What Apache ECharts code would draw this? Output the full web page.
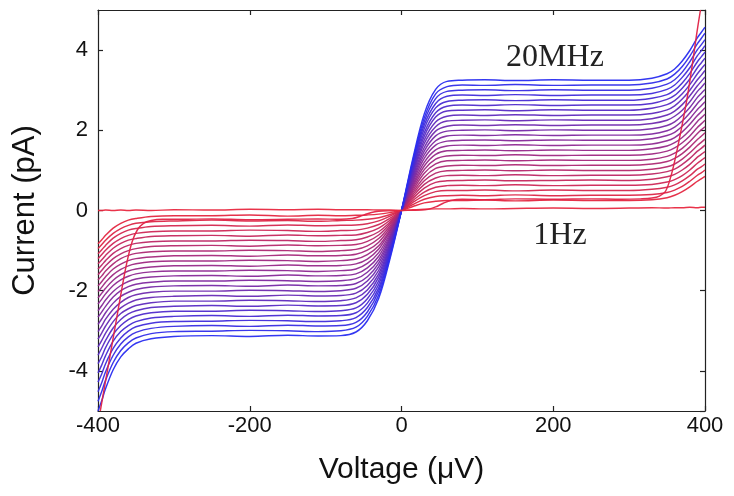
<!DOCTYPE html>
<html>
<head>
<meta charset="utf-8">
<script src="https://cdn.jsdelivr.net/npm/echarts@6/dist/echarts.min.js"></script>
<style>
  html, body { margin: 0; padding: 0; background: #ffffff; }
  #chart { width: 734px; height: 496px; }
</style>
</head>
<body>
<div id="chart"></div>
<script>
// Bias voltage grid (µV) shared by the pumping curves
const voltage = [-400, -395, -390, -380, -370, -360, -350, -330, -300, -250, -200, -150, -110, -80, -60, -45, -30, -15, 0,
                 15, 30, 45, 60, 80, 110, 150, 200, 250, 300, 330, 350, 360, 370, 380, 390, 395, 400];

// Measured current (pA) for each pumping frequency, lowest to highest
const i00 = [-0.83, -0.73, -0.62, -0.44, -0.32, -0.24, -0.20, -0.15, -0.13, -0.13, -0.11, -0.14, -0.12, -0.13, -0.12, -0.11, -0.09, -0.05, 0, 0.10, 0.19, 0.23, 0.25, 0.25, 0.26, 0.24, 0.26, 0.25, 0.25, 0.27, 0.32, 0.38, 0.47, 0.59, 0.73, 0.79, 0.85];
const i01 = [-0.95, -0.85, -0.74, -0.57, -0.45, -0.37, -0.32, -0.28, -0.26, -0.24, -0.26, -0.25, -0.27, -0.25, -0.24, -0.22, -0.18, -0.10, 0, 0.15, 0.28, 0.35, 0.37, 0.38, 0.37, 0.39, 0.37, 0.38, 0.38, 0.40, 0.45, 0.51, 0.60, 0.73, 0.88, 0.94, 1.01];
const i02 = [-1.08, -0.98, -0.87, -0.69, -0.57, -0.49, -0.45, -0.40, -0.38, -0.37, -0.39, -0.36, -0.38, -0.37, -0.36, -0.33, -0.26, -0.14, 0, 0.20, 0.37, 0.47, 0.50, 0.50, 0.51, 0.49, 0.51, 0.50, 0.50, 0.53, 0.58, 0.64, 0.74, 0.87, 1.03, 1.09, 1.16];
const i03 = [-1.20, -1.10, -0.99, -0.82, -0.70, -0.62, -0.57, -0.53, -0.51, -0.51, -0.49, -0.50, -0.52, -0.50, -0.49, -0.44, -0.35, -0.19, 0, 0.25, 0.46, 0.58, 0.62, 0.63, 0.62, 0.64, 0.62, 0.63, 0.63, 0.65, 0.71, 0.77, 0.87, 1.01, 1.18, 1.25, 1.32];
const i04 = [-1.33, -1.23, -1.12, -0.94, -0.82, -0.74, -0.70, -0.65, -0.63, -0.62, -0.64, -0.61, -0.63, -0.62, -0.61, -0.55, -0.44, -0.24, 0, 0.30, 0.56, 0.70, 0.74, 0.75, 0.76, 0.74, 0.75, 0.76, 0.75, 0.78, 0.84, 0.90, 1.01, 1.15, 1.33, 1.40, 1.47];
const i05 = [-1.46, -1.36, -1.25, -1.07, -0.95, -0.87, -0.82, -0.78, -0.76, -0.76, -0.74, -0.75, -0.77, -0.75, -0.73, -0.66, -0.53, -0.29, 0, 0.35, 0.65, 0.81, 0.87, 0.88, 0.87, 0.89, 0.87, 0.88, 0.88, 0.91, 0.97, 1.03, 1.15, 1.30, 1.48, 1.55, 1.63];
const i06 = [-1.60, -1.49, -1.38, -1.20, -1.08, -1.00, -0.95, -0.90, -0.88, -0.87, -0.89, -0.86, -0.88, -0.87, -0.85, -0.77, -0.61, -0.33, 0, 0.40, 0.74, 0.93, 0.99, 1.00, 1.01, 0.99, 1.01, 1.00, 1.00, 1.03, 1.09, 1.16, 1.28, 1.44, 1.62, 1.70, 1.78];
const i07 = [-1.73, -1.63, -1.51, -1.33, -1.20, -1.12, -1.07, -1.03, -1.01, -1.01, -0.99, -1.00, -1.02, -1.00, -0.97, -0.88, -0.70, -0.38, 0, 0.45, 0.83, 1.05, 1.11, 1.13, 1.12, 1.14, 1.12, 1.13, 1.13, 1.16, 1.22, 1.30, 1.42, 1.58, 1.77, 1.85, 1.94];
const i08 = [-1.88, -1.77, -1.65, -1.46, -1.34, -1.25, -1.20, -1.16, -1.13, -1.12, -1.14, -1.11, -1.13, -1.12, -1.09, -0.99, -0.79, -0.43, 0, 0.50, 0.93, 1.16, 1.24, 1.25, 1.26, 1.24, 1.26, 1.25, 1.25, 1.28, 1.35, 1.43, 1.55, 1.72, 1.92, 2.01, 2.09];
const i09 = [-2.02, -1.91, -1.79, -1.60, -1.47, -1.38, -1.33, -1.28, -1.26, -1.26, -1.24, -1.25, -1.27, -1.25, -1.21, -1.10, -0.88, -0.48, 0, 0.55, 1.02, 1.28, 1.36, 1.38, 1.37, 1.39, 1.37, 1.38, 1.38, 1.41, 1.48, 1.56, 1.69, 1.86, 2.07, 2.16, 2.25];
const i10 = [-2.18, -2.06, -1.94, -1.74, -1.60, -1.51, -1.46, -1.41, -1.38, -1.37, -1.39, -1.36, -1.38, -1.37, -1.33, -1.21, -0.96, -0.52, 0, 0.60, 1.11, 1.40, 1.49, 1.50, 1.51, 1.49, 1.51, 1.50, 1.50, 1.54, 1.61, 1.69, 1.82, 2.00, 2.22, 2.31, 2.40];
const i11 = [-2.33, -2.21, -2.08, -1.87, -1.73, -1.64, -1.58, -1.53, -1.51, -1.51, -1.49, -1.50, -1.52, -1.50, -1.46, -1.32, -1.05, -0.57, 0, 0.65, 1.20, 1.51, 1.61, 1.63, 1.62, 1.64, 1.62, 1.63, 1.63, 1.66, 1.74, 1.82, 1.96, 2.15, 2.37, 2.46, 2.56];
const i12 = [-2.50, -2.37, -2.23, -2.02, -1.87, -1.77, -1.71, -1.66, -1.63, -1.62, -1.64, -1.61, -1.63, -1.62, -1.58, -1.43, -1.14, -0.62, 0, 0.70, 1.30, 1.63, 1.73, 1.75, 1.76, 1.74, 1.76, 1.75, 1.75, 1.79, 1.87, 1.95, 2.10, 2.29, 2.52, 2.61, 2.71];
const i13 = [-2.66, -2.53, -2.39, -2.16, -2.00, -1.90, -1.84, -1.79, -1.76, -1.76, -1.74, -1.75, -1.77, -1.75, -1.70, -1.54, -1.23, -0.67, 0, 0.75, 1.39, 1.74, 1.86, 1.88, 1.87, 1.89, 1.87, 1.88, 1.88, 1.91, 1.99, 2.08, 2.23, 2.43, 2.67, 2.77, 2.87];
const i14 = [-2.84, -2.70, -2.55, -2.31, -2.14, -2.04, -1.97, -1.91, -1.88, -1.87, -1.89, -1.86, -1.88, -1.87, -1.82, -1.65, -1.31, -0.71, 0, 0.80, 1.48, 1.86, 1.98, 2.00, 2.01, 1.99, 2.01, 2.00, 2.00, 2.04, 2.12, 2.21, 2.37, 2.57, 2.82, 2.92, 3.02];
const i15 = [-3.02, -2.88, -2.71, -2.46, -2.29, -2.17, -2.10, -2.04, -2.01, -2.01, -1.99, -2.00, -2.02, -2.00, -1.94, -1.76, -1.40, -0.76, 0, 0.85, 1.57, 1.98, 2.10, 2.13, 2.12, 2.14, 2.12, 2.13, 2.13, 2.17, 2.25, 2.35, 2.50, 2.71, 2.97, 3.07, 3.18];
const i16 = [-3.21, -3.05, -2.88, -2.61, -2.43, -2.31, -2.23, -2.17, -2.14, -2.12, -2.14, -2.11, -2.13, -2.12, -2.06, -1.87, -1.49, -0.81, 0, 0.90, 1.67, 2.09, 2.23, 2.25, 2.26, 2.24, 2.26, 2.25, 2.25, 2.29, 2.38, 2.48, 2.64, 2.86, 3.11, 3.22, 3.33];
const i17 = [-3.40, -3.24, -3.06, -2.77, -2.57, -2.45, -2.37, -2.30, -2.26, -2.26, -2.24, -2.25, -2.27, -2.25, -2.18, -1.98, -1.58, -0.86, 0, 0.95, 1.76, 2.21, 2.35, 2.38, 2.37, 2.39, 2.37, 2.38, 2.38, 2.42, 2.51, 2.61, 2.78, 3.00, 3.26, 3.37, 3.49];
const i18 = [-3.61, -3.43, -3.24, -2.93, -2.72, -2.58, -2.50, -2.42, -2.39, -2.37, -2.39, -2.36, -2.38, -2.37, -2.30, -2.09, -1.66, -0.90, 0, 1.00, 1.85, 2.33, 2.48, 2.50, 2.51, 2.49, 2.51, 2.50, 2.50, 2.55, 2.64, 2.74, 2.91, 3.14, 3.41, 3.53, 3.64];
const i19 = [-3.82, -3.64, -3.42, -3.09, -2.87, -2.72, -2.63, -2.55, -2.51, -2.51, -2.49, -2.50, -2.52, -2.50, -2.43, -2.20, -1.75, -0.95, 0, 1.05, 1.94, 2.44, 2.60, 2.63, 2.62, 2.64, 2.62, 2.63, 2.63, 2.67, 2.77, 2.87, 3.05, 3.28, 3.56, 3.68, 3.80];
const i20 = [-4.05, -3.85, -3.62, -3.26, -3.02, -2.87, -2.77, -2.68, -2.64, -2.62, -2.64, -2.61, -2.63, -2.62, -2.55, -2.31, -1.84, -1.00, 0, 1.10, 2.04, 2.56, 2.72, 2.75, 2.76, 2.74, 2.76, 2.75, 2.75, 2.80, 2.89, 3.00, 3.18, 3.42, 3.71, 3.83, 3.95];
const i21 = [-4.28, -4.07, -3.82, -3.44, -3.18, -3.01, -2.90, -2.81, -2.77, -2.76, -2.74, -2.75, -2.77, -2.75, -2.67, -2.42, -1.93, -1.05, 0, 1.15, 2.13, 2.67, 2.85, 2.88, 2.87, 2.89, 2.87, 2.88, 2.88, 2.92, 3.02, 3.13, 3.32, 3.56, 3.86, 3.98, 4.11];
const i22 = [-4.52, -4.29, -4.02, -3.61, -3.33, -3.15, -3.04, -2.94, -2.89, -2.87, -2.89, -2.86, -2.88, -2.87, -2.79, -2.53, -2.01, -1.09, 0, 1.20, 2.22, 2.79, 2.97, 3.00, 3.01, 2.99, 3.01, 3.00, 3.00, 3.05, 3.15, 3.26, 3.45, 3.71, 4.01, 4.13, 4.26];
const i23 = [-4.76, -4.51, -4.23, -3.79, -3.49, -3.30, -3.18, -3.07, -3.02, -3.01, -2.99, -3.00, -3.02, -3.00, -2.91, -2.64, -2.10, -1.14, 0, 1.25, 2.31, 2.91, 3.09, 3.13, 3.12, 3.14, 3.12, 3.13, 3.13, 3.18, 3.28, 3.40, 3.59, 3.85, 4.16, 4.29, 4.42];
const i24 = [-5.00, -4.74, -4.44, -3.97, -3.65, -3.45, -3.31, -3.20, -3.14, -3.12, -3.14, -3.11, -3.13, -3.12, -3.03, -2.75, -2.19, -1.19, 0, 1.30, 2.41, 3.02, 3.22, 3.25, 3.26, 3.24, 3.26, 3.25, 3.25, 3.30, 3.41, 3.53, 3.73, 3.99, 4.31, 4.44, 4.57];

// 1 Hz trace: essentially zero current over the whole sweep
const i1Hz = [0.00, 0.00, 0.01, 0.00, 0.01, 0.00, 0.01, 0.00, 0.02, 0.01, 0.03, 0.02, 0.03, 0.02, 0.02, 0.02, 0.01, 0.01, 0.00,
              0.02, 0.03, 0.04, 0.04, 0.05, 0.04, 0.05, 0.06, 0.05, 0.06, 0.07, 0.06, 0.07, 0.07, 0.08, 0.07, 0.08, 0.08];

// Low-frequency trace with the wide blockade and sharp onset at the sweep ends
const steepV = [-397, -390, -383, -376, -369, -362, -355, -348, -340, -330, -315, -290, -250, -200, -150, -110, -80, -65, -55, -45, -35, -25, 0,
                25, 35, 45, 55, 65, 80, 110, 150, 200, 250, 290, 315, 330, 340, 348, 355, 362, 369, 376, 383, 389, 394];
const steepI = [-5.00, -4.25, -3.50, -2.75, -2.00, -1.30, -0.78, -0.48, -0.32, -0.25, -0.22, -0.22, -0.21, -0.23, -0.22, -0.21, -0.22, -0.20, -0.15, -0.08, -0.03, -0.01, 0.00,
                0.01, 0.03, 0.09, 0.18, 0.25, 0.28, 0.27, 0.29, 0.28, 0.29, 0.28, 0.29, 0.31, 0.36, 0.48, 0.85, 1.40, 2.05, 2.75, 3.60, 4.40, 5.00];

const pumpCurves = [i00, i01, i02, i03, i04, i05, i06, i07, i08, i09, i10, i11, i12,
                    i13, i14, i15, i16, i17, i18, i19, i20, i21, i22, i23, i24];

const xTicks = { min: -400, max: 400, step: 200 };
const yTicks = { min: -5, max: 5 };

// Red (low frequency) to blue (high frequency)
function traceColor(t) {
  const r = Math.round(228 + (40 - 228) * t);
  const g = Math.round(38 + (44 - 38) * t);
  const b = Math.round(64 + (240 - 64) * t);
  return 'rgb(' + r + ',' + g + ',' + b + ')';
}

const lineBase = {
  type: 'line', showSymbol: false, symbol: 'none', silent: true,
  smooth: 0.35, animation: false, clip: true
};

const series = pumpCurves.map((cur, k) => Object.assign({}, lineBase, {
  name: 'f' + k,
  data: voltage.map((v, i) => [v, cur[i]]),
  lineStyle: { width: 1.45, color: traceColor(k / (pumpCurves.length - 1)), opacity: 0.95 }
}));
series.push(Object.assign({}, lineBase, {
  name: 'steep',
  data: steepV.map((v, i) => [v, steepI[i]]),
  lineStyle: { width: 1.45, color: 'rgb(224,34,70)', opacity: 0.95 }
}));
series.push(Object.assign({}, lineBase, {
  name: '1Hz',
  data: voltage.map((v, i) => [v, i1Hz[i]]),
  lineStyle: { width: 1.45, color: 'rgb(232,40,64)', opacity: 0.95 }
}));

const sans = '"Liberation Sans", Arial, sans-serif';
const serif = '"Liberation Serif", "Times New Roman", serif';
const frame = { color: '#222222', width: 1.2 };

const chart = echarts.init(document.getElementById('chart'), null, { renderer: 'canvas' });
chart.setOption({
  backgroundColor: '#ffffff',
  animation: false,
  grid: { left: 98, right: 29, top: 10, bottom: 85, containLabel: false },
  xAxis: [
    {
      type: 'value', min: xTicks.min, max: xTicks.max, interval: xTicks.step, position: 'bottom',
      axisLine: { show: true, onZero: false, lineStyle: frame },
      axisTick: { show: true, inside: true, length: 5, lineStyle: frame },
      axisLabel: { fontSize: 22, color: '#111', fontFamily: sans, margin: 4 },
      splitLine: { show: false },
      name: 'Voltage (\u03BCV)', nameLocation: 'middle', nameGap: 44,
      nameTextStyle: { fontSize: 30, color: '#111', fontFamily: sans }
    },
    {
      type: 'value', min: xTicks.min, max: xTicks.max, interval: xTicks.step, position: 'top',
      axisLine: { show: true, onZero: false, lineStyle: frame },
      axisTick: { show: true, inside: true, length: 5, lineStyle: frame },
      axisLabel: { show: false }, splitLine: { show: false }
    }
  ],
  yAxis: [
    {
      type: 'value', min: yTicks.min, max: yTicks.max, splitNumber: 5, position: 'left',
      axisLine: { show: true, onZero: false, lineStyle: frame },
      axisTick: { show: true, inside: true, length: 5, lineStyle: frame },
      axisLabel: { fontSize: 22, color: '#111', fontFamily: sans, margin: 10, showMinLabel: false, showMaxLabel: false },
      splitLine: { show: false },
      name: 'Current (pA)', nameLocation: 'middle', nameGap: 57,
      nameTextStyle: { fontSize: 31, color: '#111', fontFamily: sans }
    },
    {
      type: 'value', min: yTicks.min, max: yTicks.max, splitNumber: 5, position: 'right',
      axisLine: { show: true, onZero: false, lineStyle: frame },
      axisTick: { show: true, inside: true, length: 5, lineStyle: frame },
      axisLabel: { show: false }, splitLine: { show: false }
    }
  ],
  graphic: [
    { type: 'text', x: 555, y: 58, silent: true,
      style: { text: '20MHz', fontSize: 32, fontFamily: serif, fill: '#222', align: 'center', verticalAlign: 'middle' } },
    { type: 'text', x: 560, y: 236, silent: true,
      style: { text: '1Hz', fontSize: 32, fontFamily: serif, fill: '#222', align: 'center', verticalAlign: 'middle' } }
  ],
  series: series
});
</script>
</body>
</html>
